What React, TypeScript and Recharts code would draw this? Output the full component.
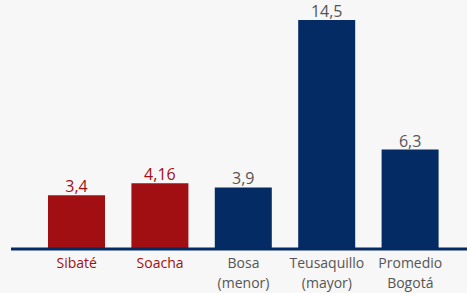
import { BarChart, Bar, XAxis, YAxis, Cell, LabelList } from "recharts";

const municipios = ["Sibaté", "Soacha", "Bosa (menor)", "Teusaquillo (mayor)", "Promedio Bogotá"];
const etiquetas = [["Sibaté"], ["Soacha"], ["Bosa", "(menor)"], ["Teusaquillo", "(mayor)"], ["Promedio", "Bogotá"]];
const valores = [3.4, 4.16, 3.9, 14.5, 6.3];
const locales = [true, true, false, false, false];

const ROJO = "#a10f13";
const AZUL = "#042b63";
const GRIS = "#555555";
const FUENTE = "'Open Sans', Lato, sans-serif";

const dados = municipios.map((m, i) => ({ nombre: m, valor: valores[i], local: locales[i], lineas: etiquetas[i] }));

function Tick(props: any) {
  const { x, y, index } = props;
  const item = dados[index];
  if (!item) return null;
  return (
    <text x={x} y={y} textAnchor="middle" fontSize={14} fontFamily={FUENTE} fill={item.local ? ROJO : GRIS}>
      {item.lineas.map((l, i) => (
        <tspan key={i} x={x} dy={i === 0 ? 11 : 20}>
          {l}
        </tspan>
      ))}
    </text>
  );
}

function Valor(props: any) {
  const { x, y, width, index } = props;
  const item = dados[index];
  return (
    <text x={x + width / 2} y={y - 3} textAnchor="middle" fontSize={16} fontFamily={FUENTE} fill={item.local ? ROJO : GRIS}>
      {String(item.valor).replace(".", ",")}
    </text>
  );
}

export default function App() {
  return (
    <div style={{ position: "fixed", left: 0, top: 0, width: 467, height: 293, background: "#f7f7f7" }}>
      <BarChart width={467} height={293} data={dados} margin={{ top: 20, right: 0, left: 11, bottom: 0 }} style={{ overflow: "visible" }}>
        <XAxis
          dataKey="nombre"
          height={44}
          padding={{ left: 24, right: 15 }}
          axisLine={{ stroke: AZUL, strokeWidth: 3 }}
          tickLine={false}
          interval={0}
          tick={<Tick />}
        />
        <YAxis hide domain={[0, 14.5]} />
        <Bar dataKey="valor" barSize={57} isAnimationActive={false}>
          {dados.map((d, i) => (
            <Cell key={i} fill={d.local ? ROJO : AZUL} />
          ))}
          <LabelList dataKey="valor" content={<Valor />} />
        </Bar>
      </BarChart>
    </div>
  );
}
